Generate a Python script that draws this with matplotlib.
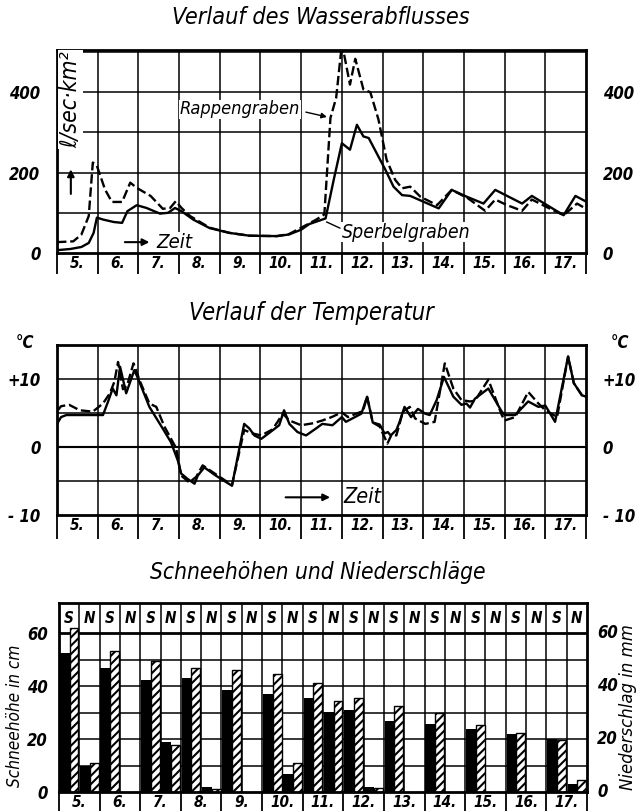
import numpy as np
import matplotlib
matplotlib.use('Agg')
import matplotlib.pyplot as plt
from matplotlib import font_manager as fm

names = {f.name for f in fm.fontManager.ttflist}
if 'Liberation Sans Narrow' in names:
    FAM = ['Liberation Sans Narrow', 'DejaVu Sans']
else:
    FAM = ['DejaVu Sans']
plt.rcParams['font.family'] = FAM
plt.rcParams['font.stretch'] = 'condensed'
plt.rcParams['font.style'] = 'italic'
plt.rcParams['hatch.linewidth'] = 1.5

# ---------------- data ----------------
days = list(range(5, 18))
day_labels = ['5.', '6.', '7.', '8.', '9.', '10.', '11.', '12.', '13.', '14.', '15.', '16.', '17.']

# discharge (l/sec km2)
sperbel_t = [5.0, 5.33, 5.6, 5.78, 5.9, 5.98, 6.14, 6.4, 6.6, 6.73, 6.96, 7.2, 7.53, 7.73, 7.9, 8.06,
             8.35, 8.75, 9.24, 9.73, 10.4, 10.7, 11.0, 11.2, 11.6, 11.8, 12.0, 12.2, 12.37, 12.53,
             12.66, 13.07, 13.27, 13.48, 13.68, 14.38, 14.7, 15.07, 15.48, 15.77, 16.43, 16.67,
             17.45, 17.74, 18.0]
sperbel_q = [7, 10, 15, 25, 50, 88, 83, 77, 75, 104, 119, 112, 98, 100, 112, 104,
             83, 62, 50, 43, 42, 46, 58, 72, 86, 182, 273, 257, 319, 290,
             286, 207, 165, 144, 142, 111, 157, 140, 123, 157, 123, 142,
             94, 142, 128]
rappen_t = [5.0, 5.4, 5.6, 5.78, 5.88, 5.98, 6.18, 6.35, 6.6, 6.8, 6.96, 7.3, 7.6, 7.78, 7.92, 8.06,
            8.27, 8.75, 9.24, 9.73, 10.4, 10.7, 11.04, 11.37, 11.57, 11.72, 11.86, 11.98, 12.04,
            12.2, 12.33, 12.53, 12.7, 12.9, 13.1, 13.31, 13.48, 13.68, 13.93, 14.34, 14.7, 15.1,
            15.52, 15.77, 16.06, 16.43, 16.67, 17.1, 17.45, 17.78, 18.0]
rappen_q = [27, 29, 46, 92, 225, 217, 158, 127, 127, 175, 162, 142, 110, 112, 129, 112,
            92, 63, 50, 43, 42, 47, 65, 83, 96, 336, 386, 500, 502,
            419, 483, 407, 400, 332, 232, 182, 161, 165, 140, 119, 157, 136,
            105, 133, 119, 105, 133, 111, 94, 123, 110]

# temperature (deg C)
temp1_t = [5.02, 5.1, 5.23, 6.13, 6.25, 6.37, 6.46, 6.55, 6.7, 6.9, 6.99, 7.27, 7.6, 7.8, 7.97, 8.05,
           8.21, 8.38, 8.46, 8.62, 8.9, 9.3, 9.6, 9.73, 9.85, 10.02, 10.2, 10.46, 10.58, 10.71,
           10.91, 11.12, 11.36, 11.52, 11.77, 12.0, 12.1, 12.48, 12.62, 12.76, 12.93, 13.05, 13.13,
           13.2, 13.34, 13.42, 13.54, 13.7, 13.87, 14.05, 14.16, 14.33, 14.51, 14.74, 14.94, 15.06,
           15.15, 15.27, 15.6, 15.93, 16.0, 16.26, 16.58, 16.83, 17.0, 17.24, 17.56, 17.7, 17.9, 18.0]
temp1_v = [3.6, 4.4, 4.7, 4.7, 6.6, 8.6, 7.6, 11.8, 7.9, 11.3, 10.1, 5.9, 2.7, 0.7, -2.0, -3.9,
           -4.7, -5.4, -4.2, -3.0, -4.2, -5.7, 3.4, 2.7, 1.7, 1.2, 2.0, 3.2, 5.4, 3.4,
           2.2, 1.7, 2.7, 3.4, 3.2, 4.4, 3.7, 4.9, 7.4, 3.6, 3.3, 2.0, 2.2,
           1.7, 2.5, 3.7, 5.9, 4.4, 5.6, 4.9, 4.7, 6.9, 10.3, 7.4, 6.2, 6.4,
           5.8, 7.1, 8.6, 5.2, 4.7, 4.7, 6.7, 5.9, 6.1, 3.7, 13.3, 9.4, 7.6, 7.4]
temp2_t = [5.02, 5.1, 5.3, 5.56, 5.88, 6.13, 6.3, 6.41, 6.5, 6.62, 6.72, 6.88, 7.05, 7.27, 7.44, 7.64,
           7.93, 8.05, 8.25, 8.42, 8.58, 8.9, 9.3, 9.6, 9.8, 10.02, 10.3, 10.55, 10.71, 11.0, 11.3,
           11.52, 11.75, 12.0, 12.15, 12.52, 12.62, 12.76, 12.93, 13.12, 13.22, 13.34, 13.5, 13.67,
           13.8, 14.05, 14.28, 14.53, 14.74, 14.94, 15.15, 15.27, 15.6, 15.93, 16.0, 16.26, 16.58,
           16.83, 17.0, 17.29, 17.56, 17.7, 17.9, 18.0]
temp2_v = [5.4, 6.0, 6.2, 5.4, 5.2, 6.4, 7.9, 9.6, 12.5, 8.5, 9.0, 12.3, 9.5, 6.4, 5.9, 3.0,
           -0.2, -4.2, -5.2, -4.4, -2.7, -4.0, -5.6, 2.5, 2.0, 1.7, 2.6, 4.9, 3.9, 3.2, 3.5,
           3.9, 4.4, 5.1, 4.4, 5.3, 7.4, 3.6, 3.0, 0.5, 1.8, 1.7, 5.2, 5.9,
           4.2, 3.4, 3.7, 12.3, 8.6, 6.9, 6.7, 6.8, 9.9, 4.7, 3.9, 4.4, 8.1,
           6.4, 5.4, 4.4, 13.3, 9.4, 7.6, 7.4]

# snow depth (cm) and precipitation (mm)
snow_sperbel = [52.5, 47, 42.5, 43, 38.7, 36.9, 35.6, 31.2, 26.9, 25.6, 23.7, 21.9, 20]
snow_rappen = [62, 53.5, 49.6, 47, 46.2, 44.7, 41.2, 35.4, 32.7, 30, 25.4, 22.5, 19.6]
prec_sperbel = [9.7, 0, 19, 1.9, 0, 6.9, 30.2, 1.9, 0, 0, 0, 0, 3.1]
prec_rappen = [10.9, 0, 17.7, 1.2, 0, 10.9, 34.4, 1.5, 0, 0, 0, 0, 4.4]

# ---------------- figure ----------------
W, H = 641, 811
fig = plt.figure(figsize=(W / 100, H / 100), dpi=100)
renderer = fig.canvas.get_renderer()


def rect(x0, y0, x1, y1):
    return [x0 / W, 1 - y1 / H, (x1 - x0) / W, (y1 - y0) / H]


def fit(t, target, vertical=False):
    """scale the font size of text t so that its extent matches target pixels"""
    bb = t.get_window_extent(renderer)
    cur = bb.height if vertical else bb.width
    if cur > 0:
        t.set_fontsize(t.get_fontsize() * target / cur)
    return t


GRID_LW = 1.1
FRAME_LW = 2.0
TICK_FS = 11


def base_axes(r, ylim, strip_len):
    ax = fig.add_axes(r)
    ax.set_xlim(5, 18)
    ax.set_ylim(*ylim)
    for s in ax.spines.values():
        s.set_linewidth(FRAME_LW)
    ax.set_xticks(range(5, 19))
    ax.set_xticklabels([])
    ax.tick_params(axis='x', which='major', length=strip_len, width=1.3, direction='out')
    ax.set_xticks(np.arange(5.5, 18, 1), minor=True)
    ax.set_xticklabels(day_labels, minor=True, fontsize=TICK_FS, fontweight='bold')
    ax.tick_params(axis='x', which='minor', length=0, pad=2)
    for d in range(6, 18):
        ax.axvline(d, color='k', lw=GRID_LW, zorder=1)
    ax.tick_params(axis='y', length=0, labelleft=True, labelright=True, labelsize=12)
    return ax


# ---- panel 1: discharge ----
fit(fig.text(321 / W, 1 - 18 / H, 'Verlauf des Wasserabflusses', ha='center', va='center',
             fontsize=17), 298)
ax1 = base_axes(rect(57, 50, 586, 253), (0, 505), 15)
for v in range(100, 501, 100):
    ax1.axhline(v, color='k', lw=GRID_LW, zorder=1)
ax1.set_yticks([0, 200, 400])
ax1.set_yticklabels(['0', '200', '400'], fontweight='bold')
ax1.tick_params(axis='y', pad=12)
ax1.plot(sperbel_t, sperbel_q, color='k', lw=1.7, zorder=3)
ax1.plot(rappen_t, rappen_q, color='k', lw=1.7, ls=(0, (4, 1.6)), zorder=3)
fit(ax1.text(5.33, 382, 'ℓ/sec·km²', rotation=90, ha='center', va='center', fontsize=13, zorder=4,
             bbox=dict(facecolor='white', edgecolor='none', pad=0.5)), 97, vertical=True)
ax1.annotate('', xy=(5.34, 215), xytext=(5.34, 140),
             arrowprops=dict(arrowstyle='-|>', color='k', lw=1.5, mutation_scale=10))
fit(ax1.text(9.5, 357, 'Rappengraben', ha='center', va='center', fontsize=12, zorder=4,
             bbox=dict(facecolor='white', edgecolor='none', pad=0.5)), 120)
ax1.annotate('', xy=(11.7, 337), xytext=(11.05, 352),
             arrowprops=dict(arrowstyle='-|>', color='k', lw=1.0, mutation_scale=8))
fit(ax1.text(13.57, 52, 'Sperbelgraben', ha='center', va='center', fontsize=12, zorder=4,
             bbox=dict(facecolor='white', edgecolor='none', pad=0.5)), 128)
ax1.plot([11.95, 11.63], [62, 77], color='k', lw=1.0)
ax1.annotate('', xy=(7.34, 27), xytext=(6.6, 27),
             arrowprops=dict(arrowstyle='-|>', color='k', lw=1.5, mutation_scale=10))
fit(ax1.text(7.45, 27, 'Zeit', ha='left', va='center', fontsize=13, zorder=4,
             bbox=dict(facecolor='white', edgecolor='none', pad=0.5)), 36)

# ---- panel 2: temperature ----
fit(fig.text(311 / W, 1 - 313 / H, 'Verlauf der Temperatur', ha='center', va='center',
             fontsize=17), 246)
ax2 = base_axes(rect(57, 345, 586, 515), (-10, 15), 17)
for v in (-5, 0, 5, 10):
    ax2.axhline(v, color='k', lw=GRID_LW * (1.4 if v == 0 else 1), zorder=1)
ax2.set_yticks([-10, 0, 10])
ax2.set_yticklabels(['- 10', '0', '+10'], fontweight='bold')
ax2.tick_params(axis='y', pad=12)
ax2.plot(temp1_t, temp1_v, color='k', lw=1.7, zorder=3)
ax2.plot(temp2_t, temp2_v, color='k', lw=1.7, ls=(0, (4, 1.6)), zorder=3)
fig.text(25 / W, 1 - 343 / H, '°C', ha='center', va='center', fontsize=12, fontweight='bold')
fig.text(620 / W, 1 - 343 / H, '°C', ha='center', va='center', fontsize=12, fontweight='bold')
ax2.annotate('', xy=(11.78, -7.4), xytext=(10.55, -7.4),
             arrowprops=dict(arrowstyle='-|>', color='k', lw=1.5, mutation_scale=10))
fit(ax2.text(12.05, -7.4, 'Zeit', ha='left', va='center', fontsize=13, zorder=4), 38)

# ---- panel 3: snow & precipitation ----
fit(fig.text(318 / W, 1 - 573 / H, 'Schneehöhen und Niederschläge', ha='center', va='center',
             fontsize=17), 337)
ax3 = base_axes(rect(59, 603, 587, 792), (0, 71.5), 19)
for x in np.arange(5.5, 18, 1):
    ax3.axvline(x, color='k', lw=GRID_LW, zorder=1)
for v in range(10, 60, 10):
    ax3.axhline(v, color='k', lw=GRID_LW, zorder=1)
ax3.axhline(60, color='k', lw=FRAME_LW, zorder=1)
ax3.set_yticks([0, 20, 40, 60])
ax3.set_yticklabels(['0', '20', '40', '60'], fontweight='bold')
ax3.tick_params(axis='y', labelleft=True, labelright=False, pad=8)
xs = np.array(days, dtype=float)
ax3.bar(xs + 0.02, snow_sperbel, width=0.24, align='edge', color='k', zorder=2)
ax3.bar(xs + 0.26, snow_rappen, width=0.22, align='edge', facecolor='white', edgecolor='k',
        hatch='////', lw=1.0, zorder=2)
ax3.bar(xs + 0.52, prec_sperbel, width=0.24, align='edge', color='k', zorder=2)
ax3.bar(xs + 0.76, prec_rappen, width=0.22, align='edge', facecolor='white', edgecolor='k',
        hatch='////', lw=1.0, zorder=2)
for d in days:
    ax3.text(d + 0.25, 65.7, 'S', ha='center', va='center', fontsize=11, fontweight='bold')
    ax3.text(d + 0.75, 65.7, 'N', ha='center', va='center', fontsize=11, fontweight='bold')
# right-hand axis (precipitation, same scale)
for v in (0, 20, 40, 60):
    ax3.text(18.25, v, str(v), ha='left', va='center', fontsize=12, fontweight='bold')
fit(fig.text(15 / W, 1 - 716 / H, 'Schneehöhe in cm', rotation=90, ha='center', va='center',
             fontsize=13), 142, vertical=True)
fit(fig.text(628 / W, 1 - 707 / H, 'Niederschlag in mm', rotation=90, ha='center', va='center',
             fontsize=13), 165, vertical=True)

fig.savefig('out.png', dpi=100, facecolor='white')
